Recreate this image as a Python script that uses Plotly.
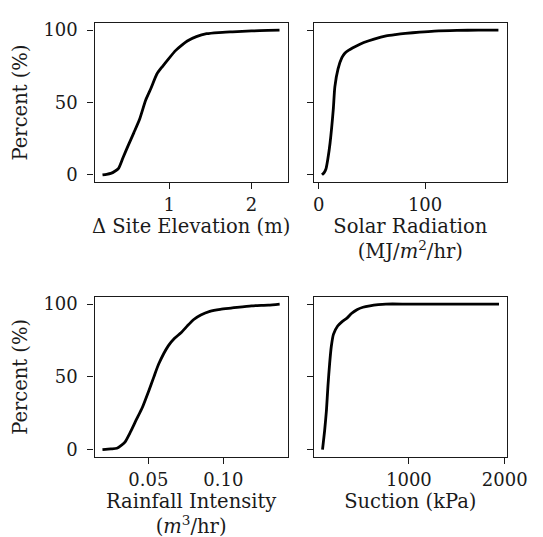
import plotly.graph_objects as go

# ---- data ----
pct_ticks = [0, 50, 100]

elev_x = [0.19, 0.24, 0.29, 0.34, 0.385, 0.44, 0.50, 0.57, 0.638, 0.715, 0.78, 0.852, 0.92, 0.99, 1.08, 1.15, 1.22, 1.33, 1.455, 1.6, 1.77, 2.0, 2.2, 2.34]
elev_y = [0, 0.4, 1, 2.5, 4.5, 12, 20, 29, 38, 51.7, 60, 69.8, 75, 80, 86, 89.5, 92.5, 95.5, 97.5, 98.3, 98.8, 99.4, 99.8, 100]

solar_x = [3.0, 5.0, 6.7, 8.5, 10.6, 13.6, 15.1, 18.1, 21.7, 24.5, 27.2, 34, 42.3, 52, 63.4, 72, 81.5, 95, 108.7, 130, 150, 169]
solar_y = [0, 1.5, 4, 11, 22, 45, 60.8, 73.2, 81, 84, 85.7, 88.5, 91.4, 93.8, 96, 96.9, 97.7, 98.6, 99.3, 99.8, 100, 100]

rain_x = [0.0194, 0.025, 0.029, 0.0315, 0.0344, 0.038, 0.0419, 0.046, 0.0504, 0.0537, 0.0569, 0.0633, 0.0675, 0.0718, 0.076, 0.0803, 0.085, 0.091, 0.098, 0.106, 0.1188, 0.130, 0.1376]
rain_y = [0, 0.5, 1, 2.6, 5.2, 12, 20.4, 29, 40.7, 50, 58.8, 71.3, 76.5, 80.3, 85, 89.4, 92.5, 95, 96.4, 97.3, 98.8, 99.3, 100]

suction_x = [98, 120, 139, 155, 172, 190, 212, 256, 300, 356, 400, 457, 520, 592, 680, 760, 1000, 1500, 1940]
suction_y = [0, 13, 27, 44, 58.8, 71, 79.2, 84.9, 87.8, 90.5, 93.5, 96.1, 97.8, 98.8, 99.6, 100, 100, 100, 100]

x_titles = ["Δ Site Elevation (m)",
            "Solar Radiation<br>(MJ/<i>m</i><sup>2</sup>/hr)",
            "Rainfall Intensity<br>(<i>m</i><sup>3</sup>/hr)",
            "Suction (kPa)"]
y_title = "Percent (%)"

x_ranges = [[0.093, 2.44], [-4.8, 177], [0.0141, 0.143], [6, 2023]]
x_tickvals = [[1, 2], [0, 100], [0.05, 0.10], [1000, 2000]]
x_ticktext = [["1", "2"], ["0", "100"], ["0.05", "0.10"], ["1000", "2000"]]

series = [(elev_x, elev_y), (solar_x, solar_y), (rain_x, rain_y), (suction_x, suction_y)]

FONT = "DejaVu Serif"
TXT = "#1a1a1a"
W, H = 543, 537
xdoms = [[90 / W, 291 / W], [318 / W, 519 / W]]
ydoms = [[1 - 173 / H, 1 - 12 / H], [1 - 451 / H, 1 - 289 / H]]

fig = go.Figure()
layout = dict(
    width=W, height=H,
    margin=dict(l=0, r=0, t=0, b=0),
    paper_bgcolor="white", plot_bgcolor="white",
    showlegend=False,
    font=dict(family=FONT, size=18, color=TXT),
)

for i, (xs, ys) in enumerate(series):
    r, c = divmod(i, 2)
    n = "" if i == 0 else str(i + 1)
    fig.add_trace(go.Scatter(x=xs, y=ys, mode="lines",
                             line=dict(color="black", width=2.8, shape="spline", smoothing=0.6),
                             xaxis="x" + n, yaxis="y" + n))
    layout["xaxis" + n] = dict(
        domain=xdoms[c], anchor="y" + n, range=x_ranges[i],
        tickvals=x_tickvals[i], ticktext=x_ticktext[i],
        ticks="outside", ticklen=6, tickwidth=1.2, tickcolor=TXT,
        tickfont=dict(size=18),
        showline=True, linecolor=TXT, linewidth=1.3, mirror=True,
        showgrid=False, zeroline=False,
        title=dict(text=x_titles[i], standoff=4, font=dict(size=19.5)),
    )
    layout["yaxis" + n] = dict(
        domain=ydoms[r], anchor="x" + n, range=[-5, 105],
        tickvals=pct_ticks, ticktext=[str(v) for v in pct_ticks],
        showticklabels=(c == 0),
        ticks="outside", ticklen=6, tickwidth=1.2, tickcolor=TXT,
        ticklabelstandoff=6,
        tickfont=dict(size=18),
        showline=True, linecolor=TXT, linewidth=1.3, mirror=True,
        showgrid=False, zeroline=False,
        title=dict(text=y_title if c == 0 else "", standoff=10, font=dict(size=19.5)),
    )

fig.update_layout(**layout)
fig.write_html("out.html")
